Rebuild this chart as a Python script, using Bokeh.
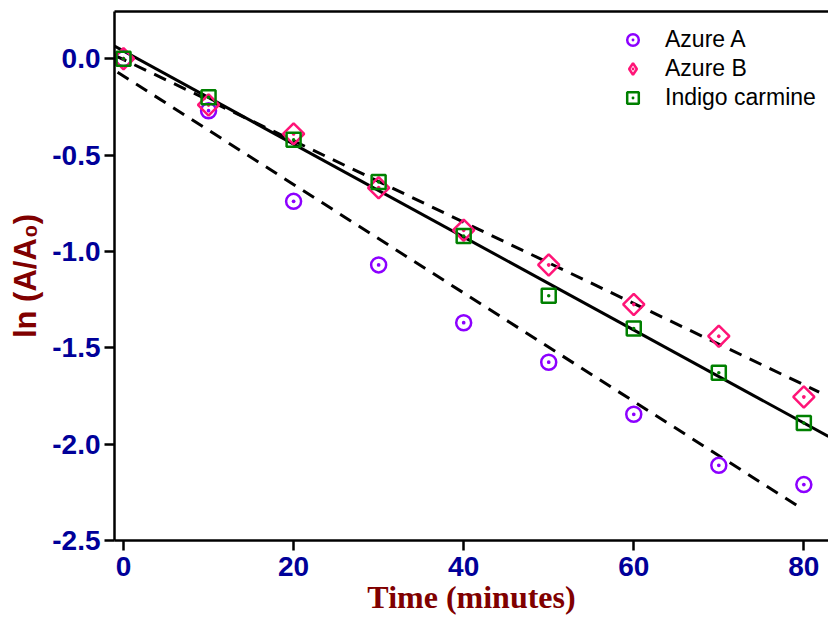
from bokeh.plotting import figure
from bokeh.models import Range1d, LinearAxis, FixedTicker, Legend, LegendItem
from bokeh.embed import file_html
from bokeh.resources import INLINE
import math

# ---- data ----
time_min = [0, 10, 20, 30, 40, 50, 60, 70, 80]
azure_a = [0.0, -0.27, -0.74, -1.07, -1.37, -1.575, -1.845, -2.11, -2.21]
azure_b = [0.0, -0.24, -0.39, -0.67, -0.89, -1.07, -1.275, -1.44, -1.755]
indigo_carmine = [0.0, -0.20, -0.42, -0.64, -0.92, -1.23, -1.40, -1.63, -1.89]
series_names = ["Azure A", "Azure B", "Indigo carmine"]
x_ticks = [0, 20, 40, 60, 80]
x_tick_labels = ["0", "20", "40", "60", "80"]
y_ticks = [0.0, -0.5, -1.0, -1.5, -2.0, -2.5]
y_tick_labels = ["0.0", "-0.5", "-1.0", "-1.5", "-2.0", "-2.5"]
# linear fit lines (end points)
fit_a_x = [-0.7, 79.6]
fit_a_y = [-0.07, -2.33]
fit_b_x = [-1.06, 81.8]
fit_b_y = [0.018, -1.73]
fit_ic_x = [-1.06, 82.9]
fit_ic_y = [0.065, -1.96]

TICK_FONT = "Liberation Sans"
BLUE = "#000099"
DARKRED = "#800000"
C_A, C_B, C_IC = "#8C00FF", "#FF1477", "#008000"

p = figure(width=828, height=620, output_backend="svg", toolbar_location=None,
           x_range=Range1d(-1.06, 82.9), y_range=Range1d(-2.5, 0.245),
           min_border_left=114, min_border_right=0, min_border_top=11,
           min_border_bottom=80, x_axis_label="Time (minutes)",
           y_axis_label="ln (A/A\u2080)")
p.grid.visible = False
p.outline_line_color = None
p.background_fill_color = "white"

for ax in (p.xaxis[0], p.yaxis[0]):
    ax.axis_line_width = 2.5
    ax.axis_line_color = "black"
    ax.major_tick_line_width = 2.5
    ax.major_tick_out = 10
    ax.major_tick_in = 0
    ax.minor_tick_line_color = None
    ax.major_label_text_font = TICK_FONT
    ax.major_label_text_font_style = "bold"
    ax.major_label_text_font_size = "28px"
    ax.major_label_text_color = BLUE

p.xaxis.ticker = FixedTicker(ticks=x_ticks)
p.xaxis.major_label_overrides = dict(zip(x_ticks, x_tick_labels))
p.yaxis.ticker = FixedTicker(ticks=y_ticks)
p.yaxis.major_label_overrides = dict(zip(y_ticks, y_tick_labels))
p.xaxis.major_label_standoff = 6
p.yaxis.major_label_standoff = 4

p.xaxis.axis_label_text_font = "Liberation Serif"
p.xaxis.axis_label_text_font_style = "bold"
p.xaxis.axis_label_text_font_size = "32px"
p.xaxis.axis_label_text_color = DARKRED
p.xaxis.axis_label_standoff = 0

p.yaxis.axis_label_text_font = "Liberation Sans"
p.yaxis.axis_label_text_font_style = "bold"
p.yaxis.axis_label_text_font_size = "31px"
p.yaxis.axis_label_text_color = DARKRED
p.yaxis.axis_label_standoff = 6

# top border as an axis without ticks/labels
top = LinearAxis(ticker=FixedTicker(ticks=[]), axis_line_width=2.5,
                 major_tick_line_color=None, minor_tick_line_color=None,
                 major_label_text_font_size="0px")
p.add_layout(top, "above")

# fitted lines
p.line(fit_a_x, fit_a_y, line_color="black", line_width=3, line_dash="13 9")
p.line(fit_b_x, fit_b_y, line_color="black", line_width=3, line_dash="13 9")
p.line(fit_ic_x, fit_ic_y, line_color="black", line_width=3)

r_a = p.scatter(time_min, azure_a, marker="circle_dot", size=15,
                line_color=C_A, fill_color=None, line_width=2.5)
r_b = p.scatter(time_min, azure_b, marker="square_dot", size=15, angle=math.pi / 4,
                line_color=C_B, fill_color=None, line_width=2.5)
r_c = p.scatter(time_min, indigo_carmine, marker="square_dot", size=14,
                line_color=C_IC, fill_color=None, line_width=2.5)
# legend-only glyph for Azure B (legend markers are never rotated)
r_b_leg = p.scatter(time_min, azure_b, marker="diamond_dot", size=15,
                    line_color=C_B, fill_color=None, line_width=2.5, visible=False)

legend = Legend(items=[LegendItem(label=series_names[0], renderers=[r_a]),
                       LegendItem(label=series_names[1], renderers=[r_b_leg]),
                       LegendItem(label=series_names[2], renderers=[r_c])],
                location=(504, 428), padding=0, margin=0, spacing=0,
                glyph_width=29, glyph_height=29, label_height=29,
                label_standoff=18,
                label_text_font="Liberation Sans", label_text_font_size="23px",
                label_text_color="black", inactive_fill_alpha=0,
                border_line_color=None, background_fill_alpha=0)
p.add_layout(legend, "center")

open("out.html", "w").write(file_html(p, INLINE))
